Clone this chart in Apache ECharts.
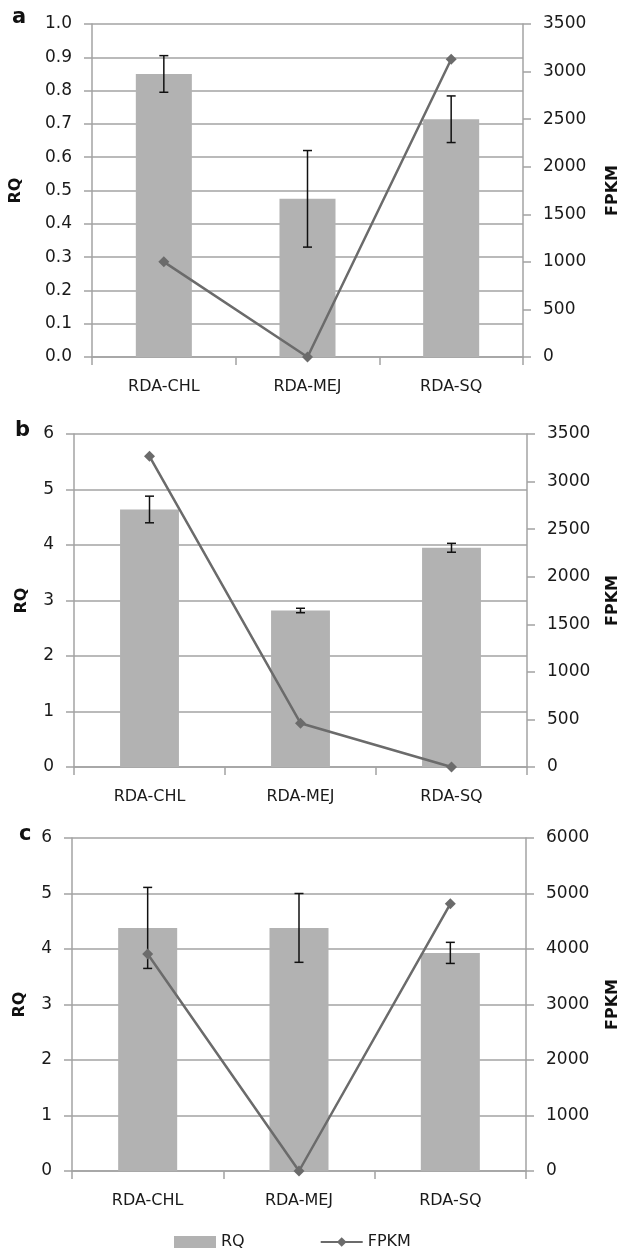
<!DOCTYPE html>
<html lang="en">
<head>
	<meta charset="UTF-8">
	<title>RQ / FPKM</title>
	<style type="text/css">
		html, body { margin: 0; padding: 0; background: #fff; }
		#main { width: 629px; height: 1256px; }
	</style>
</head>
<body>
	<div id="main"></div>
	<script type="text/javascript" src="https://cdn.jsdelivr.net/npm/echarts@6/dist/echarts.min.js"></script>
	<script type="text/javascript">
		// categories (same for all three panels)
		var categories = ['RDA-CHL', 'RDA-MEJ', 'RDA-SQ'];

		// panel a
		var rqA = [0.85, 0.475, 0.714];
		var errA = [0.055, 0.145, 0.07];
		var fpkmA = [1000, 0, 3130];
		// panel b
		var rqB = [4.64, 2.82, 3.95];
		var errB = [0.24, 0.04, 0.08];
		var fpkmB = [3265, 460, 0];
		// panel c
		var rqC = [4.38, 4.38, 3.93];
		var errC = [0.73, 0.62, 0.19];
		var fpkmC = [3910, 0, 4815];

		var font = 'DejaVu Sans';
		var gridColor = '#a3a3a3';
		var barColor = '#b2b2b2';
		var lineColor = '#6b6b6b';

		var myChart = echarts.init(document.getElementById('main'));

		// error bar data: [index, low, high]
		function errData(vals, errs) {
			var out = [];
			for (var i = 0; i < vals.length; i++) {
				out.push([i, vals[i] - errs[i], vals[i] + errs[i]]);
			}
			return out;
		}

		function renderErr(params, api) {
			var top = api.coord([api.value(0), api.value(2)]);
			var bot = api.coord([api.value(0), api.value(1)]);
			var cap = 4.5;
			var st = { stroke: '#111', lineWidth: 1.5 };
			return {
				type: 'group',
				children: [
					{ type: 'line', shape: { x1: top[0], y1: top[1], x2: bot[0], y2: bot[1] }, style: st },
					{ type: 'line', shape: { x1: top[0] - cap, y1: top[1], x2: top[0] + cap, y2: top[1] }, style: st },
					{ type: 'line', shape: { x1: bot[0] - cap, y1: bot[1], x2: bot[0] + cap, y2: bot[1] }, style: st }
				]
			};
		}

		function xAx(gi) {
			return {
				type: 'category', gridIndex: gi, data: categories,
				axisLine: { lineStyle: { color: gridColor, width: 1.5 } },
				axisTick: { show: true, length: 8, lineStyle: { color: gridColor, width: 1.5 } },
				axisLabel: { color: '#1a1a1a', fontFamily: font, fontSize: 16, margin: 22 }
			};
		}

		function yLeft(gi, max, interval, dec, gap) {
			return {
				type: 'value', gridIndex: gi, min: 0, max: max, interval: interval, position: 'left',
				name: 'RQ', nameLocation: 'middle', nameRotate: 90, nameGap: gap,
				nameTextStyle: { fontFamily: 'DejaVu Sans', fontWeight: 'bold', fontSize: 16, color: '#111' },
				axisLine: { show: true, lineStyle: { color: gridColor, width: 1.5 } },
				axisTick: { show: true, length: 8, lineStyle: { color: gridColor, width: 1.5 } },
				axisLabel: {
					color: '#1a1a1a', fontFamily: font, fontSize: 17, margin: 20,
					formatter: function (v) { return v.toFixed(dec); }
				},
				splitLine: { show: true, lineStyle: { color: gridColor, width: 1.5 } }
			};
		}

		function yRight(gi, max, interval, gap) {
			return {
				type: 'value', gridIndex: gi, min: 0, max: max, interval: interval, position: 'right',
				name: 'FPKM', nameLocation: 'middle', nameRotate: 90, nameGap: gap,
				nameTextStyle: { fontFamily: 'DejaVu Sans', fontWeight: 'bold', fontSize: 16, color: '#111' },
				axisLine: { show: true, lineStyle: { color: gridColor, width: 1.5 } },
				axisTick: { show: true, length: 8, lineStyle: { color: gridColor, width: 1.5 } },
				axisLabel: {
					color: '#1a1a1a', fontFamily: font, fontSize: 17, margin: 20,
					formatter: function (v) { return String(v); }
				},
				splitLine: { show: false }
			};
		}

		function barS(xi, yi, d) {
			return {
				name: 'RQ', type: 'bar', xAxisIndex: xi, yAxisIndex: yi, data: d,
				barWidth: '39%', itemStyle: { color: barColor }, z: 2
			};
		}
		function errS(xi, yi, vals, errs) {
			return {
				type: 'custom', xAxisIndex: xi, yAxisIndex: yi, renderItem: renderErr,
				data: errData(vals, errs), encode: { x: 0, y: [1, 2] }, z: 3, silent: true
			};
		}
		function lineS(xi, yi, d) {
			return {
				name: 'FPKM', type: 'line', xAxisIndex: xi, yAxisIndex: yi, data: d,
				symbol: 'diamond', symbolSize: 11, showSymbol: true,
				lineStyle: { color: lineColor, width: 2.5 },
				itemStyle: { color: lineColor }, z: 4
			};
		}

		var option = {
			animation: false,
			grid: [
				{ left: 89, right: 106, top: 24, height: 333 },
				{ left: 74, right: 102, top: 434, height: 333 },
				{ left: 72, right: 93, top: 838, height: 333 }
			],
			xAxis: [xAx(0), xAx(1), xAx(2)],
			yAxis: [
				yLeft(0, 1, 0.1, 1, 68), yRight(0, 3500, 500, 82),
				yLeft(1, 6, 1, 0, 44), yRight(1, 3500, 500, 78),
				yLeft(2, 6, 1, 0, 44), yRight(2, 6000, 1000, 79)
			],
			legend: {
				left: 169, top: 1229, itemWidth: 42, itemHeight: 12, itemGap: 75,
				textStyle: { fontFamily: font, fontSize: 16, color: '#1a1a1a' },
				data: [{ name: 'RQ', icon: 'rect' }, { name: 'FPKM' }]
			},
			graphic: [
				{ type: 'text', left: 12, top: 7, style: { text: 'a', font: 'bold 21px "DejaVu Sans"', fill: '#111' } },
				{ type: 'text', left: 15, top: 420, style: { text: 'b', font: 'bold 21px "DejaVu Sans"', fill: '#111' } },
				{ type: 'text', left: 19, top: 824, style: { text: 'c', font: 'bold 21px "DejaVu Sans"', fill: '#111' } }
			],
			series: [
				barS(0, 0, rqA), errS(0, 0, rqA, errA), lineS(0, 1, fpkmA),
				barS(1, 2, rqB), errS(1, 2, rqB, errB), lineS(1, 3, fpkmB),
				barS(2, 4, rqC), errS(2, 4, rqC, errC), lineS(2, 5, fpkmC)
			]
		};
		myChart.setOption(option);
	</script>
</body>
</html>
